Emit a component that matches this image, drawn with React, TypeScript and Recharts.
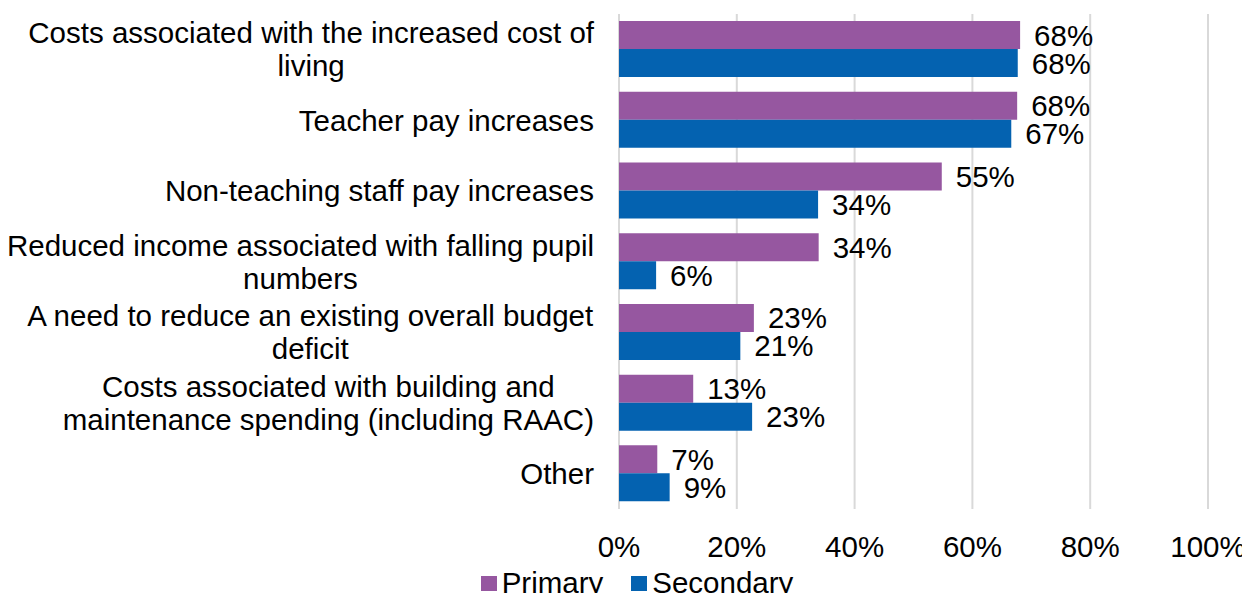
import React from "react";
import { Bar, BarChart, CartesianGrid, LabelList, Legend, XAxis, YAxis } from "recharts";

const categories = [
  ["Costs associated with the increased cost of", "living"],
  ["Teacher pay increases"],
  ["Non-teaching staff pay increases"],
  ["Reduced income associated with falling pupil", "numbers"],
  ["A need to reduce an existing overall budget", "deficit"],
  ["Costs associated with building and", "maintenance spending (including RAAC)"],
  ["Other"],
];
const primary = [68.1, 67.6, 54.8, 33.9, 22.9, 12.6, 6.5];
const secondary = [67.7, 66.6, 33.8, 6.3, 20.6, 22.6, 8.6];
const xTicks = [0, 20, 40, 60, 80, 100];

const PURPLE = "#9657A0";
const BLUE = "#0462B0";
const FONT = "'Liberation Sans', Arial, sans-serif";
const FS = 29.5;

const chartData = categories.map((lines, i) => ({
  name: lines.join(" "),
  lines,
  primary: primary[i],
  secondary: secondary[i],
}));

let ctx: CanvasRenderingContext2D | null = null;
function textWidth(s: string) {
  if (!ctx) {
    ctx = document.createElement("canvas").getContext("2d");
    if (ctx) ctx.font = `${FS}px ${FONT}`;
  }
  return ctx ? ctx.measureText(s).width : s.length * 14.5;
}

// wrapped category label: lines centred on each other, block right-aligned to the axis
function CategoryTick(props: any) {
  const { x, y, payload } = props;
  const row = chartData.find((d) => d.name === payload.value);
  const lines = row ? row.lines : [payload.value];
  const w = Math.max(...lines.map(textWidth));
  const cx = x - w / 2;
  const lh = 33;
  const top = y - ((lines.length - 1) * lh) / 2;
  return (
    <text textAnchor="middle" fontFamily={FONT} fontSize={FS} fill="#000">
      {lines.map((l, i) => (
        <tspan key={i} x={cx} y={top + i * lh} dy="0.36em">
          {l}
        </tspan>
      ))}
    </text>
  );
}

function PercentTick(props: any) {
  const { x, y, payload } = props;
  return (
    <text x={x} y={y + 40} textAnchor="middle" fontFamily={FONT} fontSize={FS} fill="#000">
      {`${payload.value}%`}
    </text>
  );
}

function LegendBox() {
  const items = [
    { label: "Primary", color: PURPLE },
    { label: "Secondary", color: BLUE },
  ];
  return (
    <div style={{ display: "flex", justifyContent: "center", paddingLeft: 66, paddingTop: 4, fontFamily: FONT, fontSize: FS, lineHeight: "30px" }}>
      {items.map((it, i) => (
        <span key={it.label} style={{ display: "flex", alignItems: "center", marginLeft: i ? 28 : 0 }}>
          <span style={{ width: 16, height: 15, background: it.color, marginRight: 5, display: "inline-block" }} />
          {it.label}
        </span>
      ))}
    </div>
  );
}

export default function App() {
  return (
    <div style={{ position: "absolute", left: 0, top: 0, background: "#fff", overflow: "hidden", width: 1242, height: 593 }}>
      <BarChart
        width={1242}
        height={593}
        data={chartData}
        layout="vertical"
        margin={{ top: 14, right: 34, left: 0, bottom: 0 }}
        barCategoryGap="10%"
        barGap={0}
      >
        <CartesianGrid horizontal={false} stroke="#d9d9d9" strokeWidth={2} />
        <XAxis
          type="number"
          domain={[0, 100]}
          ticks={xTicks}
          axisLine={false}
          tickLine={false}
          tick={<PercentTick />}
          height={55}
          interval={0}
        />
        <YAxis
          type="category"
          dataKey="name"
          width={619}
          axisLine={false}
          tickLine={false}
          tickMargin={19}
          tick={<CategoryTick />}
          interval={0}
        />
        <Legend verticalAlign="bottom" height={29} content={<LegendBox />} />
        <Bar dataKey="primary" fill={PURPLE} isAnimationActive={false}>
          <LabelList
            dataKey="primary"
            position="right"
            offset={14}
            formatter={(v: any) => `${Math.round(v)}%`}
            style={{ fontFamily: FONT, fontSize: FS, fill: "#000" }}
          />
        </Bar>
        <Bar dataKey="secondary" fill={BLUE} isAnimationActive={false}>
          <LabelList
            dataKey="secondary"
            position="right"
            offset={14}
            formatter={(v: any) => `${Math.round(v)}%`}
            style={{ fontFamily: FONT, fontSize: FS, fill: "#000" }}
          />
        </Bar>
      </BarChart>
    </div>
  );
}
